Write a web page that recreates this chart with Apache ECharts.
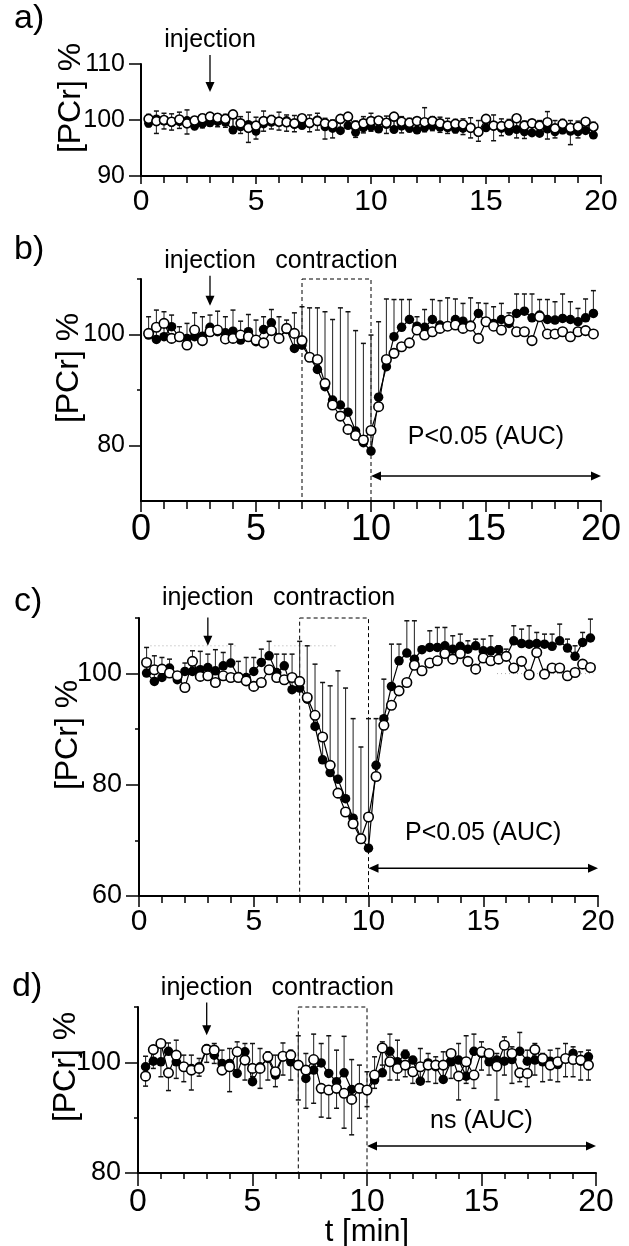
<!DOCTYPE html>
<html>
<head>
<meta charset="utf-8">
<script src="https://cdn.jsdelivr.net/npm/echarts@6/dist/echarts.min.js"></script>
<style>
html,body{margin:0;padding:0;background:#fff;}
#chart{width:629px;height:1246px;}
</style>
</head>
<body>
<div id="chart"></div>
<script>
// ---------------- DATA ----------------
// sampling times (min)
const times = [0.33,0.67,1.00,1.33,1.67,2.00,2.33,2.67,3.00,3.33,
               3.67,4.00,4.33,4.67,5.00,5.33,5.67,6.00,6.33,6.67,
               7.00,7.33,7.67,8.00,8.33,8.67,9.00,9.33,9.67,10.00,
               10.33,10.67,11.00,11.33,11.67,12.00,12.33,12.67,13.00,13.33,
               13.67,14.00,14.33,14.67,15.00,15.33,15.67,16.00,16.33,16.67,
               17.00,17.33,17.67,18.00,18.33,18.67,19.00,19.33,19.67];
const xTicks = [0,5,10,15,20];

// panel a
const aBlack = [99.4,100.2,99.8,99.6,99.7,99.9,98.9,99.3,99.5,99.7,
                99.6,98.2,98.8,99.2,98.0,99.3,99.6,99.8,99.9,99.2,
                99.0,99.3,100.0,98.8,98.5,98.1,99.0,97.8,98.6,98.8,
                98.4,99.2,98.3,98.9,98.5,98.2,98.6,98.9,98.7,98.6,
                98.4,98.5,98.7,97.8,98.6,98.9,98.5,98.0,98.3,97.9,
                97.7,97.6,98.4,97.9,98.2,98.0,97.9,98.1,97.3];
const aOpen  = [100.2,99.8,100.0,99.7,100.1,99.4,99.9,100.3,100.6,100.4,
                100.2,101.0,99.4,98.6,99.0,99.8,100.0,99.7,99.6,99.4,
                100.3,99.5,99.8,99.4,99.2,100.2,100.6,99.0,99.4,99.8,
                99.9,99.5,100.6,99.7,99.5,99.8,99.6,99.8,99.4,99.0,
                99.3,99.2,98.6,97.9,100.2,99.0,98.9,99.2,100.3,99.0,
                99.4,99.0,99.6,98.5,99.3,98.6,98.8,99.7,98.8];
const aBlackUpper = [101.0,101.6,101.2,101.1,101.4,101.8,100.6,101.0,101.2,101.1,
                     101.0,100.4,100.6,101.4,100.5,101.6,100.8,101.4,100.9,100.8,
                     100.6,100.9,101.2,100.3,100.0,100.5,100.8,99.8,100.6,101.2,
                     100.2,100.7,100.4,100.6,100.3,100.2,102.2,100.6,100.5,100.3,
                     100.1,100.2,100.4,99.9,100.6,100.9,100.2,100.1,100.3,99.8,
                     99.6,99.9,101.5,99.9,100.1,99.9,99.8,100.4,99.6];
const aOpenLower  = [98.8,97.6,98.4,98.2,98.5,97.5,98.3,98.6,98.9,98.8,
                     98.7,98.2,97.6,96.0,96.6,98.0,98.4,98.2,98.0,97.9,
                     98.5,97.9,98.2,96.6,96.8,98.4,98.8,96.9,97.7,98.0,
                     98.3,97.6,98.6,97.7,97.9,98.1,97.9,98.1,97.8,97.6,
                     97.7,97.4,96.8,96.2,98.3,96.3,97.2,97.6,96.8,96.7,
                     97.6,97.4,96.6,96.8,97.6,95.6,96.8,97.9,97.4];

// panel b
const bBlack = [99.9,99.1,99.6,101.4,99.5,99.3,99.6,99.7,101.3,100.5,
                100.3,100.6,99.0,100.5,98.7,100.9,102.1,99.3,100.9,97.5,
                98.1,95.9,93.7,90.6,88.2,87.3,86.0,82.6,80.5,79.0,
                88.7,94.2,99.6,101.3,102.7,101.5,101.3,102.7,101.7,101.5,
                102.7,102.4,101.7,103.8,102.3,102.0,102.7,102.0,103.8,104.2,
                103.0,103.5,102.7,102.6,102.9,102.7,102.3,103.0,103.8];
const bOpen  = [100.2,101.3,102.0,99.3,99.6,98.1,100.8,98.9,100.5,100.8,
                99.2,99.3,99.9,99.6,99.0,98.5,100.7,99.3,101.1,100.2,
                98.9,95.9,95.5,91.2,87.3,85.3,82.9,81.8,81.0,82.7,
                87.0,95.5,96.6,97.8,98.5,100.8,99.9,100.5,101.1,101.5,
                101.7,101.1,101.5,99.3,102.3,101.5,100.8,102.6,100.5,100.5,
                98.9,103.2,100.1,100.1,100.5,99.6,100.5,100.7,100.1];
const bBlackUpper = [103.2,104.4,104.1,103.5,101.4,102.0,103.9,103.2,103.5,104.2,
                     103.2,104.4,102.4,103.6,102.6,103.2,104.5,103.2,102.6,103.9,
                     105.0,104.8,104.8,104.1,102.7,104.8,104.1,100.7,98.4,99.9,
                     102.3,106.4,106.3,106.3,106.3,103.2,104.5,106.3,106.1,106.6,
                     106.4,105.6,106.6,105.7,105.6,105.0,105.6,103.9,107.3,107.3,
                     107.3,106.3,106.3,105.9,107.3,105.9,104.7,106.4,107.9];

// panel c
const cBlack = [100.1,98.6,99.3,101.0,98.9,100.4,100.4,100.7,101.1,100.5,
                101.4,101.9,99.5,99.3,100.4,102.0,103.2,100.2,101.4,97.1,
                97.4,95.4,90.5,84.5,82.2,81.0,77.5,74.0,70.4,68.6,
                83.5,91.9,97.7,102.3,103.7,102.6,104.3,104.7,104.7,105.0,
                104.4,104.9,104.4,105.0,104.1,104.1,104.3,103.1,105.9,105.4,
                105.3,105.4,105.3,104.9,105.9,104.6,103.1,105.6,106.4];
const cOpen  = [102.0,100.7,100.8,100.1,99.6,97.5,102.2,99.5,99.6,98.4,
                99.6,99.3,99.3,98.7,97.7,98.4,100.7,99.3,98.9,99.3,
                98.6,95.7,92.5,88.6,83.5,78.5,75.1,73.0,70.3,74.2,
                81.5,90.7,94.3,96.9,98.4,101.5,100.5,101.9,102.3,103.6,
                102.6,103.6,102.2,100.8,102.8,102.3,102.6,103.1,101.0,102.2,
                99.8,103.8,99.9,101.0,101.0,99.6,100.2,101.7,101.1];
const cBlackUpper = [104.7,103.2,102.9,102.6,100.0,101.9,104.1,104.0,103.5,104.3,
                     103.8,105.3,102.2,102.9,102.9,104.4,105.8,103.5,103.5,103.5,
                     105.8,105.0,101.7,98.4,97.8,100.5,97.4,91.9,86.8,91.9,
                     91.9,99.0,105.3,105.3,109.5,109.5,104.4,107.7,108.3,108.3,
                     106.8,107.1,105.9,106.2,106.2,106.8,105.0,104.4,108.6,108.0,
                     108.6,107.4,107.1,107.1,108.9,106.2,105.0,107.4,109.8];

// panel d
const dBlack = [99.2,100.2,100.1,102.0,100.1,99.2,98.9,99.2,102.5,101.3,
                99.8,99.8,98.0,101.9,96.5,99.2,100.7,97.7,101.0,100.1,
                99.5,97.1,98.6,99.9,98.0,96.5,98.1,95.1,95.4,94.9,
                96.8,98.1,102.0,100.1,101.4,100.4,96.6,99.9,99.2,96.9,
                100.1,100.4,97.5,102.0,101.6,100.1,100.4,100.2,100.5,102.0,
                100.2,100.4,100.1,100.2,99.6,100.7,101.6,100.2,101.0];
const dOpen  = [97.5,102.3,103.4,98.1,101.3,99.2,98.6,98.9,102.3,102.2,
                98.6,99.2,101.9,100.4,98.9,98.9,101.0,98.3,101.1,101.3,
                99.5,98.6,100.5,95.3,95.0,95.3,94.4,93.3,95.3,95.0,
                97.7,102.6,100.1,98.9,99.5,98.3,99.2,99.5,99.5,99.5,
                101.6,97.5,100.1,97.7,101.9,101.6,99.3,103.1,101.6,98.1,
                98.0,102.3,100.7,99.5,100.1,100.7,100.5,100.4,99.5];
const dBlackUpper = [101.1,102.3,103.1,103.5,104.0,101.3,101.3,100.7,102.8,103.4,
                     102.2,102.5,103.7,103.4,103.4,102.5,101.9,101.3,103.5,102.2,
                     104.8,101.6,105.1,103.4,104.8,102.2,104.7,100.5,99.5,98.3,
                     101.0,103.7,105.1,104.0,102.2,101.0,102.5,101.6,101.0,101.9,
                     101.6,103.4,104.8,105.1,103.7,101.9,101.6,104.6,102.8,105.4,
                     102.2,103.4,101.6,102.2,102.5,103.4,102.8,101.9,102.2];
const dOpenLower  = [95.7,98.9,97.4,94.9,97.1,96.5,95.0,97.5,100.0,99.8,
                     98.3,94.7,97.7,96.8,97.4,95.3,96.8,95.6,97.7,96.8,
                     93.2,91.7,92.6,90.1,89.9,91.7,88.1,86.9,89.9,92.0,
                     95.3,99.5,96.8,96.8,97.4,96.2,96.8,96.5,96.2,96.8,
                     97.1,93.2,96.2,95.3,98.6,97.7,93.2,97.7,96.2,96.5,
                     95.6,97.7,96.5,96.8,96.5,97.4,97.4,96.8,96.8];

// y-axis tick labels per panel
const aYLabels = [90,100,110];
const bYLabels = [80,100];
const cYLabels = [60,80,100];
const dYLabels = [80,100];
const bYMinor = [90,110];
const cYMinor = [70,90,110];
const dYMinor = [90,110];

// texts
const panelLetters = ['a)','b)','c)','d)'];
const yTitle = '[PCr] %';
const xTitle = 't [min]';
const injText = 'injection';
const conText = 'contraction';
const aucTexts = [null,'P<0.05 (AUC)','P<0.05 (AUC)','ns (AUC)'];

// event times (min)
const injectionTime = 3;
const contraction = [7,10];
const aucRange = [10,20];

// ---------------- LAYOUT / STYLE ----------------
const FONT = "'Liberation Sans', Arial, Helvetica, sans-serif";
const panels = [
  {grid:{left:141,top:64,width:460,height:112}, yMin:90,yMax:110, black:aBlack, open:aOpen, up:aBlackUpper, down:aOpenLower,
   yMajor:aYLabels, yMinor:[], xFont:30, xMargin:11, xMajorLen:8, xMinorLen:7, yFont:25, yMajorLen:12,
   sym:9, contraction:false, arrowY:[111.6,105.0], injY:114.3, auc:null,
   letter:{x:14,y:19}, ytitle:{x:71,y:98}},
  {grid:{left:141,top:279,width:460,height:222}, yMin:70,yMax:110, black:bBlack, open:bOpen, up:bBlackUpper, down:null,
   yMajor:bYLabels, yMinor:bYMinor, xFont:36, xMargin:11, xMajorLen:11, xMinorLen:8, yFont:25, yMajorLen:12,
   sym:9.5, contraction:true, arrowY:[110.6,105.2], injY:113.3, auc:{y:74.5, tx:15, ty:81.5},
   letter:{x:14,y:250}, ytitle:{x:69,y:368}},
  {grid:{left:139,top:618,width:459,height:278}, yMin:60,yMax:110, black:cBlack, open:cOpen, up:cBlackUpper, down:null,
   yMajor:cYLabels, yMinor:cYMinor, xFont:30, xMargin:11, xMajorLen:11, xMinorLen:7, yFont:27, yMajorLen:13,
   sym:9.5, contraction:true, arrowY:[110.1,105.0], injY:113.5, auc:{y:65.0, tx:15, ty:71.3},
   faint:[[[0.5,105],[4.3,105]],[[5.9,105],[8.6,105]],[[15.6,100],[19.8,100]]],
   letter:{x:14,y:602}, ytitle:{x:68,y:735}},
  {grid:{left:138,top:1007,width:458,height:166}, yMin:80,yMax:110, black:dBlack, open:dOpen, up:dBlackUpper, down:dOpenLower,
   yMajor:dYLabels, yMinor:dYMinor, xFont:32, xMargin:13, xMajorLen:13, xMinorLen:6, yFont:27, yMajorLen:13,
   sym:9.5, contraction:true, arrowY:[110.8,104.9], injY:113.5, auc:{y:84.9, tx:15, ty:89.4},
   letter:{x:12,y:987}, ytitle:{x:66,y:1067}}
];

function errRender(params, api){
  const x = api.value(0), y0 = api.value(1), y1 = api.value(2);
  const p0 = api.coord([x,y0]), p1 = api.coord([x,y1]);
  const cw = 2.5;
  return {type:'group', children:[
    {type:'line', shape:{x1:p0[0],y1:p0[1],x2:p1[0],y2:p1[1]}, style:{stroke:'#333', lineWidth:1.1}},
    {type:'line', shape:{x1:p1[0]-cw,y1:p1[1],x2:p1[0]+cw,y2:p1[1]}, style:{stroke:'#111', lineWidth:1.5}}
  ]};
}

const grids = [], xAxes = [], yAxes = [], series = [];
panels.forEach((p,k)=>{
  grids.push(p.grid);
  xAxes.push({type:'value', gridIndex:k, min:0, max:20, interval:1, position:'bottom',
    axisLine:{show:true,onZero:false,lineStyle:{color:'#000',width:2}},
    axisTick:{show:true,length:p.xMinorLen,lineStyle:{color:'#000',width:1.5}},
    axisLabel:{show:false}, splitLine:{show:false}});
  xAxes.push({type:'value', gridIndex:k, min:0, max:20, interval:5, position:'bottom', offset:0,
    axisLine:{show:false},
    axisTick:{show:true,length:p.xMajorLen,lineStyle:{color:'#000',width:1.5}},
    axisLabel:{show:true,customValues:xTicks,fontSize:p.xFont,margin:p.xMargin,color:'#000',fontFamily:FONT},
    splitLine:{show:false}});
  yAxes.push({type:'value', gridIndex:k, min:p.yMin, max:p.yMax, interval:10, position:'left',
    axisLine:{show:true,onZero:false,lineStyle:{color:'#000',width:2}},
    axisTick:{show:p.yMinor.length>0, customValues:p.yMinor.length?p.yMinor:undefined, length:4, lineStyle:{color:'#000',width:1.5}},
    axisLabel:{show:false}, splitLine:{show:false}});
  yAxes.push({type:'value', gridIndex:k, min:p.yMin, max:p.yMax, interval:10, position:'left', offset:0,
    axisLine:{show:false},
    axisTick:{show:true, customValues:p.yMajor, length:p.yMajorLen, lineStyle:{color:'#000',width:1.5}},
    axisLabel:{show:true, customValues:p.yMajor, fontSize:p.yFont, margin:p.yMajorLen+4, color:'#000', fontFamily:FONT},
    splitLine:{show:false}});
  const xi = k*2, yi = k*2;
  series.push({type:'custom', xAxisIndex:xi, yAxisIndex:yi, renderItem:errRender, z:1, silent:true,
    encode:{x:0,y:[1,2]}, data: times.map((t,i)=>[t,p.black[i],p.up[i]])});
  if(p.down){
    series.push({type:'custom', xAxisIndex:xi, yAxisIndex:yi, renderItem:errRender, z:1, silent:true,
      encode:{x:0,y:[1,2]}, data: times.map((t,i)=>[t,p.open[i],p.down[i]])});
  }
  const blackS = {type:'line', xAxisIndex:xi, yAxisIndex:yi, z:3, silent:true,
    data: times.map((t,i)=>[t,p.black[i]]), symbol:'circle', symbolSize:p.sym, showSymbol:true,
    itemStyle:{color:'#000'}, lineStyle:{color:'#000',width:1.2}, emphasis:{disabled:true}};
  if(p.contraction){
    blackS.markArea = {silent:true, itemStyle:{color:'rgba(0,0,0,0)', borderColor:'#000', borderWidth:1, borderType:[4,3]},
      data:[[{coord:[contraction[0],p.yMax]},{coord:[contraction[1],p.yMin]}]]};
  }
  series.push(blackS);
  series.push({type:'line', xAxisIndex:xi, yAxisIndex:yi, z:4, silent:true,
    data: times.map((t,i)=>[t,p.open[i]]), symbol:'circle', symbolSize:p.sym, showSymbol:true,
    itemStyle:{color:'#fff', borderColor:'#000', borderWidth:1.6}, lineStyle:{color:'#000',width:1.2}, emphasis:{disabled:true}});
});

const chart = echarts.init(document.getElementById('chart'));
chart.setOption({animation:false, backgroundColor:'#fff', grid:grids, xAxis:xAxes, yAxis:yAxes, series:series});

// ---------------- ANNOTATIONS (positioned through the axes' scales) ----------------
const g = [];
function txt(x,y,text,size,extra){
  return Object.assign({type:'text', x:x, y:y, silent:true,
    style:{text:text, fontSize:size, fontFamily:FONT, fill:'#000', align:'center', verticalAlign:'middle'}}, extra||{});
}
function head(tip, dir, len, half){
  const bx = tip[0]-dir[0]*len, by = tip[1]-dir[1]*len;
  const nx = -dir[1], ny = dir[0];
  return {type:'polygon', silent:true, shape:{points:[[tip[0],tip[1]],[bx+nx*half,by+ny*half],[bx-nx*half,by-ny*half]]}, style:{fill:'#000'}};
}
panels.forEach((p,k)=>{
  const cv = (x,y)=>chart.convertToPixel({xAxisIndex:k*2, yAxisIndex:k*2},[x,y]);
  const L = txt(p.letter.x, p.letter.y, panelLetters[k], 34);
  L.style.align = 'left';
  g.push(L);
  g.push(txt(p.ytitle.x, p.ytitle.y, yTitle, 32, {rotation:Math.PI/2}));
  const a0 = cv(injectionTime, p.arrowY[0]), a1 = cv(injectionTime, p.arrowY[1]);
  g.push({type:'line', silent:true, shape:{x1:a0[0],y1:a0[1],x2:a1[0],y2:a1[1]-6}, style:{stroke:'#000',lineWidth:1.3}});
  g.push(head(a1,[0,1],10,4.5));
  const it = cv(injectionTime, p.injY);
  g.push(txt(it[0], it[1], injText, 25));
  if(p.contraction){
    const ct = cv(8.5, p.injY);
    g.push(txt(ct[0], ct[1], conText, 25));
  }
  if(p.auc){
    const l = cv(aucRange[0], p.auc.y), r = cv(aucRange[1], p.auc.y);
    g.push({type:'line', silent:true, shape:{x1:l[0]+6,y1:l[1],x2:r[0]-6,y2:r[1]}, style:{stroke:'#000',lineWidth:1.5}});
    g.push(head(l,[-1,0],10,4.5));
    g.push(head(r,[1,0],10,4.5));
    const t = cv(p.auc.tx, p.auc.ty);
    g.push(txt(t[0], t[1], aucTexts[k], 25));
  }
  if(p.faint){
    p.faint.forEach(seg=>{
      const s0 = cv(seg[0][0],seg[0][1]), s1 = cv(seg[1][0],seg[1][1]);
      g.push({type:'line', silent:true, z:-1, shape:{x1:s0[0],y1:s0[1],x2:s1[0],y2:s1[1]}, style:{stroke:'#aaa',lineWidth:1,lineDash:[1,3]}});
    });
  }
});
g.push(txt(367, 1232, xTitle, 31));
chart.setOption({graphic:g});
</script>
</body>
</html>
